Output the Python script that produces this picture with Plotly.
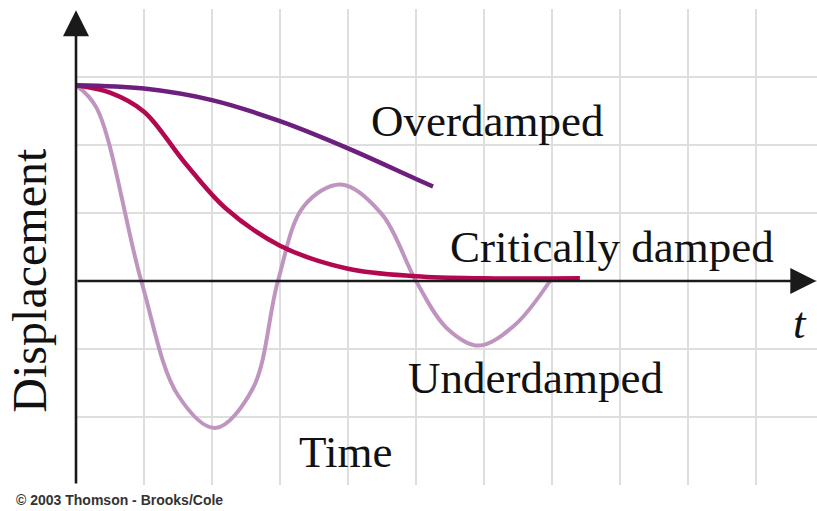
import plotly.graph_objects as go

# Curves (x in grid cells of time, y in grid cells of displacement)
over_x = [0, 1, 2, 3, 4, 5, 5.25]
over_y = [2.88, 2.83, 2.66, 2.35, 1.95, 1.50, 1.39]

crit_x = [0, 0.5, 1.0, 1.6, 2.2, 3.0, 4.0, 5.0, 6.0, 7.41]
crit_y = [2.88, 2.77, 2.49, 1.74, 1.07, 0.52, 0.18, 0.07, 0.04, 0.04]

under_x = [0, 0.3, 0.96, 1.5, 2.05, 2.6, 2.97, 3.35, 3.9, 4.5, 5.0, 5.45, 5.92, 6.45, 6.97]
under_y = [2.88, 2.55, 0.0, -1.68, -2.16, -1.58, 0.0, 1.10, 1.42, 0.98, 0.0, -0.69, -0.95, -0.65, 0.0]

labels = ["Overdamped", "Critically damped", "Underdamped", "Time", "<i>t</i>"]
label_x = [6.04, 7.88, 6.76, 3.96, 10.65]
label_y = [2.35, 0.50, -1.43, -2.52, -0.62]

y_title = "Displacement"
credit = "© 2003 Thomson - Brooks/Cole"

X_MAX = 741 / 68
Y_MIN, Y_MAX = -3, 4

fig = go.Figure()
fig.add_trace(go.Scatter(x=under_x, y=under_y, mode="lines",
                         line=dict(color="#bf95c0", width=4, shape="spline", smoothing=1.0),
                         hoverinfo="skip"))
fig.add_trace(go.Scatter(x=crit_x, y=crit_y, mode="lines",
                         line=dict(color="#b3084f", width=4.5, shape="spline", smoothing=1.0),
                         hoverinfo="skip"))
fig.add_trace(go.Scatter(x=over_x, y=over_y, mode="lines",
                         line=dict(color="#6c1f7c", width=4.5, shape="spline", smoothing=1.0),
                         hoverinfo="skip"))

serif = "Liberation Serif"
annotations = []
for t, x, y in zip(labels, label_x, label_y):
    annotations.append(dict(x=x, y=y, xref="x", yref="y", text=t, showarrow=False,
                            font=dict(family=serif, size=45, color="#111"),
                            xanchor="center", yanchor="middle"))
annotations.append(dict(x=-0.063, y=0.43, xref="paper", yref="paper", text=y_title, showarrow=False,
                        textangle=-90, font=dict(family=serif, size=48, color="#111"),
                        xanchor="center", yanchor="middle"))
annotations.append(dict(x=0.059, y=-0.032, xref="paper", yref="paper", text="<b>" + credit + "</b>",
                        showarrow=False,
                        font=dict(family="Liberation Sans", size=14, color="#333"),
                        xanchor="center", yanchor="middle"))
# axis arrows
annotations.append(dict(x=0, y=Y_MAX - 0.02, ax=0, ay=Y_MIN, xref="x", yref="y", axref="x", ayref="y",
                        text="", showarrow=True, arrowhead=2, arrowsize=2.0, arrowwidth=2.6,
                        arrowcolor="#1a1a1a"))
annotations.append(dict(x=X_MAX - 0.01, y=0, ax=0, ay=0, xref="x", yref="y", axref="x", ayref="y",
                        text="", showarrow=True, arrowhead=2, arrowsize=2.0, arrowwidth=2.6,
                        arrowcolor="#1a1a1a"))

fig.update_layout(
    width=817, height=511,
    margin=dict(l=76, r=0, t=9, b=26),
    paper_bgcolor="white", plot_bgcolor="white",
    showlegend=False,
    annotations=annotations,
    xaxis=dict(range=[0, X_MAX], dtick=1, tick0=0, showgrid=True, gridcolor="#dedede",
               gridwidth=2, zeroline=False, showticklabels=False, ticks="", showline=False,
               fixedrange=True),
    yaxis=dict(range=[Y_MIN, Y_MAX], dtick=1, tick0=0, showgrid=True, gridcolor="#dedede",
               gridwidth=2, zeroline=False, showticklabels=False, ticks="", showline=False,
               fixedrange=True),
)
fig.write_html("out.html", config={"displayModeBar": False},
               post_script="document.body.style.margin='0px';document.body.style.overflow='hidden';")
